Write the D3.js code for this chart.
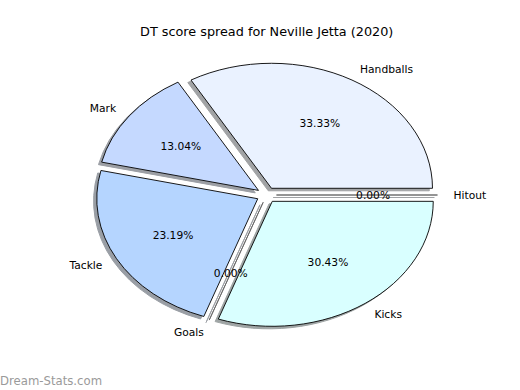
<!DOCTYPE html>
<html><head><meta charset="utf-8">
<script src="https://cdn.jsdelivr.net/npm/d3@7"></script>
<style>body{margin:0;background:#fff}svg{display:block}</style>
</head><body>
<svg id="chart" width="520" height="390"></svg>
<script>
const title = "DT score spread for Neville Jetta (2020)";
const categories = ["Handballs", "Mark", "Tackle", "Goals", "Kicks", "Hitout"];
const values = [23, 9, 16, 0, 21, 0];
const colors = ["#eaf2ff", "#c5d9ff", "#b5d5ff", "#cce0ff", "#d9ffff", "#e0ecff"];
const watermark = "Dream-Stats.com";

const W = 520, H = 390;
const cx = 266.5, cy = 195, rx = 161, ry = 125;
const explode = 0.062, labelDist = 1.1, pctDist = 0.6;

const svg = d3.select("#chart");
const x = d3.scaleLinear().domain([-1, 1]).range([cx - rx, cx + rx]);
const y = d3.scaleLinear().domain([-1, 1]).range([cy - ry, cy + ry]); // screen-down unit

const pie = d3.pie().sort(null).value(d => d)
  .startAngle(Math.PI / 2).endAngle(Math.PI / 2 - 2 * Math.PI);
const arcs = pie(values);
const arc = d3.arc().innerRadius(0).outerRadius(1);
const total = d3.sum(values);
const fmt = d3.format(".2f");

function unit(a) { return [Math.sin(a), -Math.cos(a)]; }

const shadowG = svg.append("g");
const wedgeG = svg.append("g");
const textG = svg.append("g").style("font-family", "DejaVu Sans, sans-serif");

arcs.forEach((d, i) => {
  const m = (d.startAngle + d.endAngle) / 2;
  const [ux, uy] = unit(m);
  const ox = ux * explode, oy = uy * explode;
  const sx = x(1) - x(0), sy = y(1) - y(0);
  const tf = `translate(${x(ox)},${y(oy)}) scale(${sx},${sy})`;
  const c = d3.rgb(colors[i]);
  const sc = d3.rgb(c.r * 0.3, c.g * 0.3, c.b * 0.3);
  const zero = values[i] === 0;
  shadowG.append("path")
    .attr("d", arc(d))
    .attr("transform", `translate(-3.2,2.5) ` + tf)
    .attr("fill", sc).attr("stroke", sc).attr("stroke-width", 1)
    .attr("vector-effect", "non-scaling-stroke")
    .attr("opacity", 0.5);
  wedgeG.append("path")
    .attr("d", arc(d))
    .attr("transform", tf)
    .attr("fill", colors[i]).attr("stroke", zero ? "#666" : "#000").attr("stroke-width", 0.9)
    .attr("stroke-linejoin", "miter")
    .attr("vector-effect", "non-scaling-stroke");
  const lx = ox + labelDist * ux, ly = oy + labelDist * uy;
  textG.append("text")
    .attr("x", x(lx)).attr("y", y(ly)).attr("dy", "0.36em")
    .attr("text-anchor", lx < 0 ? "end" : "start")
    .attr("font-size", "10.7px").attr("fill", "#000")
    .text(categories[i]);
  const px = ox + pctDist * ux, py = oy + pctDist * uy;
  textG.append("text")
    .attr("x", x(px)).attr("y", y(py)).attr("dy", "0.36em")
    .attr("text-anchor", "middle")
    .attr("font-size", "10.7px").attr("fill", "#000")
    .text(fmt(total ? values[i] / total * 100 : 0) + "%");
});

svg.append("text")
  .attr("x", 266.7).attr("y", 35.5)
  .attr("text-anchor", "middle")
  .style("font-family", "DejaVu Sans, sans-serif")
  .attr("font-size", "12.8px").attr("fill", "#000")
  .text(title);

svg.append("text")
  .attr("x", 0).attr("y", 385)
  .style("font-family", "DejaVu Sans, sans-serif")
  .attr("font-size", "11.7px").attr("fill", "#9a9a9a")
  .text(watermark);
</script>
</body></html>
